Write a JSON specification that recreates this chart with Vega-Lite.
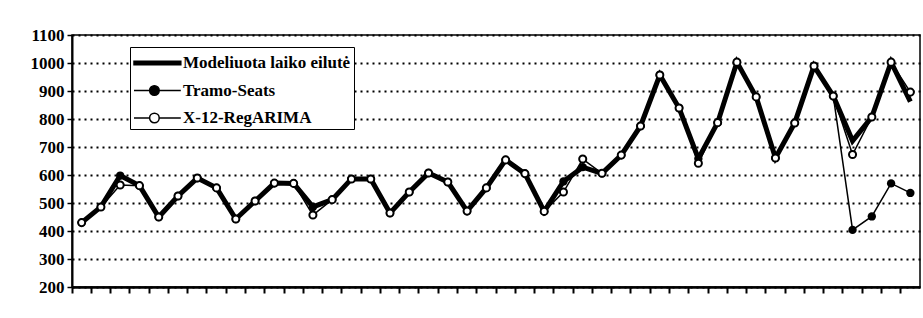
{
  "$schema": "https://vega.github.io/schema/vega-lite/v6.json",
  "width": 848,
  "height": 252,
  "autosize": {"type": "none"},
  "padding": {"left": 72, "top": 35, "right": 3, "bottom": 31},
  "background": "white",
  "config": {
    "view": {"stroke": "black", "strokeWidth": 1.5},
    "font": "Liberation Serif"
  },
  "datasets": {
    "series": [
      {"t":1,"s":"Modeliuota laiko eilutė","v":430},{"t":2,"s":"Modeliuota laiko eilutė","v":486},{"t":3,"s":"Modeliuota laiko eilutė","v":598},{"t":4,"s":"Modeliuota laiko eilutė","v":562},{"t":5,"s":"Modeliuota laiko eilutė","v":450},{"t":6,"s":"Modeliuota laiko eilutė","v":525},{"t":7,"s":"Modeliuota laiko eilutė","v":589},{"t":8,"s":"Modeliuota laiko eilutė","v":554},{"t":9,"s":"Modeliuota laiko eilutė","v":443},{"t":10,"s":"Modeliuota laiko eilutė","v":507},{"t":11,"s":"Modeliuota laiko eilutė","v":571},{"t":12,"s":"Modeliuota laiko eilutė","v":570},{"t":13,"s":"Modeliuota laiko eilutė","v":486},{"t":14,"s":"Modeliuota laiko eilutė","v":512},{"t":15,"s":"Modeliuota laiko eilutė","v":586},{"t":16,"s":"Modeliuota laiko eilutė","v":586},{"t":17,"s":"Modeliuota laiko eilutė","v":464},{"t":18,"s":"Modeliuota laiko eilutė","v":539},{"t":19,"s":"Modeliuota laiko eilutė","v":607},{"t":20,"s":"Modeliuota laiko eilutė","v":575},{"t":21,"s":"Modeliuota laiko eilutė","v":471},{"t":22,"s":"Modeliuota laiko eilutė","v":554},{"t":23,"s":"Modeliuota laiko eilutė","v":654},{"t":24,"s":"Modeliuota laiko eilutė","v":605},{"t":25,"s":"Modeliuota laiko eilutė","v":470},{"t":26,"s":"Modeliuota laiko eilutė","v":577},{"t":27,"s":"Modeliuota laiko eilutė","v":628},{"t":28,"s":"Modeliuota laiko eilutė","v":606},{"t":29,"s":"Modeliuota laiko eilutė","v":671},{"t":30,"s":"Modeliuota laiko eilutė","v":775},{"t":31,"s":"Modeliuota laiko eilutė","v":957},{"t":32,"s":"Modeliuota laiko eilutė","v":839},{"t":33,"s":"Modeliuota laiko eilutė","v":658},{"t":34,"s":"Modeliuota laiko eilutė","v":787},{"t":35,"s":"Modeliuota laiko eilutė","v":1003},{"t":36,"s":"Modeliuota laiko eilutė","v":879},{"t":37,"s":"Modeliuota laiko eilutė","v":661},{"t":38,"s":"Modeliuota laiko eilutė","v":786},{"t":39,"s":"Modeliuota laiko eilutė","v":989},{"t":40,"s":"Modeliuota laiko eilutė","v":882},{"t":41,"s":"Modeliuota laiko eilutė","v":722},{"t":42,"s":"Modeliuota laiko eilutė","v":807},{"t":43,"s":"Modeliuota laiko eilutė","v":1003},{"t":44,"s":"Modeliuota laiko eilutė","v":862},
      {"t":1,"s":"Tramo-Seats","v":430},{"t":2,"s":"Tramo-Seats","v":486},{"t":3,"s":"Tramo-Seats","v":598},{"t":4,"s":"Tramo-Seats","v":562},{"t":5,"s":"Tramo-Seats","v":450},{"t":6,"s":"Tramo-Seats","v":525},{"t":7,"s":"Tramo-Seats","v":589},{"t":8,"s":"Tramo-Seats","v":554},{"t":9,"s":"Tramo-Seats","v":443},{"t":10,"s":"Tramo-Seats","v":507},{"t":11,"s":"Tramo-Seats","v":571},{"t":12,"s":"Tramo-Seats","v":570},{"t":13,"s":"Tramo-Seats","v":486},{"t":14,"s":"Tramo-Seats","v":512},{"t":15,"s":"Tramo-Seats","v":586},{"t":16,"s":"Tramo-Seats","v":586},{"t":17,"s":"Tramo-Seats","v":464},{"t":18,"s":"Tramo-Seats","v":539},{"t":19,"s":"Tramo-Seats","v":607},{"t":20,"s":"Tramo-Seats","v":575},{"t":21,"s":"Tramo-Seats","v":471},{"t":22,"s":"Tramo-Seats","v":554},{"t":23,"s":"Tramo-Seats","v":654},{"t":24,"s":"Tramo-Seats","v":605},{"t":25,"s":"Tramo-Seats","v":470},{"t":26,"s":"Tramo-Seats","v":577},{"t":27,"s":"Tramo-Seats","v":628},{"t":28,"s":"Tramo-Seats","v":606},{"t":29,"s":"Tramo-Seats","v":671},{"t":30,"s":"Tramo-Seats","v":775},{"t":31,"s":"Tramo-Seats","v":957},{"t":32,"s":"Tramo-Seats","v":839},{"t":33,"s":"Tramo-Seats","v":658},{"t":34,"s":"Tramo-Seats","v":787},{"t":35,"s":"Tramo-Seats","v":1003},{"t":36,"s":"Tramo-Seats","v":879},{"t":37,"s":"Tramo-Seats","v":661},{"t":38,"s":"Tramo-Seats","v":786},{"t":39,"s":"Tramo-Seats","v":989},{"t":40,"s":"Tramo-Seats","v":882},{"t":41,"s":"Tramo-Seats","v":404},{"t":42,"s":"Tramo-Seats","v":452},{"t":43,"s":"Tramo-Seats","v":570},{"t":44,"s":"Tramo-Seats","v":536},
      {"t":1,"s":"X-12-RegARIMA","v":430},{"t":2,"s":"X-12-RegARIMA","v":486},{"t":3,"s":"X-12-RegARIMA","v":564},{"t":4,"s":"X-12-RegARIMA","v":562},{"t":5,"s":"X-12-RegARIMA","v":450},{"t":6,"s":"X-12-RegARIMA","v":525},{"t":7,"s":"X-12-RegARIMA","v":589},{"t":8,"s":"X-12-RegARIMA","v":554},{"t":9,"s":"X-12-RegARIMA","v":443},{"t":10,"s":"X-12-RegARIMA","v":507},{"t":11,"s":"X-12-RegARIMA","v":571},{"t":12,"s":"X-12-RegARIMA","v":570},{"t":13,"s":"X-12-RegARIMA","v":457},{"t":14,"s":"X-12-RegARIMA","v":512},{"t":15,"s":"X-12-RegARIMA","v":586},{"t":16,"s":"X-12-RegARIMA","v":586},{"t":17,"s":"X-12-RegARIMA","v":464},{"t":18,"s":"X-12-RegARIMA","v":539},{"t":19,"s":"X-12-RegARIMA","v":607},{"t":20,"s":"X-12-RegARIMA","v":575},{"t":21,"s":"X-12-RegARIMA","v":471},{"t":22,"s":"X-12-RegARIMA","v":554},{"t":23,"s":"X-12-RegARIMA","v":654},{"t":24,"s":"X-12-RegARIMA","v":605},{"t":25,"s":"X-12-RegARIMA","v":470},{"t":26,"s":"X-12-RegARIMA","v":539},{"t":27,"s":"X-12-RegARIMA","v":657},{"t":28,"s":"X-12-RegARIMA","v":606},{"t":29,"s":"X-12-RegARIMA","v":671},{"t":30,"s":"X-12-RegARIMA","v":775},{"t":31,"s":"X-12-RegARIMA","v":957},{"t":32,"s":"X-12-RegARIMA","v":839},{"t":33,"s":"X-12-RegARIMA","v":642},{"t":34,"s":"X-12-RegARIMA","v":787},{"t":35,"s":"X-12-RegARIMA","v":1003},{"t":36,"s":"X-12-RegARIMA","v":879},{"t":37,"s":"X-12-RegARIMA","v":661},{"t":38,"s":"X-12-RegARIMA","v":786},{"t":39,"s":"X-12-RegARIMA","v":989},{"t":40,"s":"X-12-RegARIMA","v":882},{"t":41,"s":"X-12-RegARIMA","v":673},{"t":42,"s":"X-12-RegARIMA","v":807},{"t":43,"s":"X-12-RegARIMA","v":1003},{"t":44,"s":"X-12-RegARIMA","v":896}
    ]
  },
  "data": {"name": "series"},
  "encoding": {
    "x": {
      "field": "t", "type": "ordinal",
      "scale": {"type": "band", "paddingInner": 0, "paddingOuter": 0},
      "axis": {"labels": false, "title": null, "ticks": true, "tickSize": 6, "tickWidth": 2, "tickColor": "black", "domainColor": "black", "domainWidth": 2.5, "grid": false, "bandPosition": 0}
    },
    "y": {
      "field": "v", "type": "quantitative",
      "scale": {"domain": [200, 1100], "nice": false, "zero": false},
      "axis": {"values": [200,300,400,500,600,700,800,900,1000,1100], "format": "d", "title": null, "grid": true, "gridDash": [2,4], "gridWidth": 2, "gridColor": "black", "gridOpacity": 1, "tickSize": 5, "tickWidth": 1.5, "tickColor": "black", "domainColor": "black", "domainWidth": 2, "labelFont": "Liberation Serif", "labelFontWeight": "bold", "labelFontSize": 17, "labelColor": "black", "labelPadding": 3, "labelOverlap": false}
    }
  },
  "layer": [
    {
      "transform": [{"filter": "datum.s === 'Modeliuota laiko eilutė'"}],
      "mark": {"type": "line", "color": "black", "strokeWidth": 5, "strokeJoin": "miter"}
    },
    {
      "transform": [{"filter": "datum.s === 'X-12-RegARIMA'"}],
      "mark": {"type": "line", "color": "black", "strokeWidth": 1.5}
    },
    {
      "transform": [{"filter": "datum.s === 'Tramo-Seats'"}],
      "mark": {"type": "line", "color": "black", "strokeWidth": 1.5}
    },
    {
      "transform": [{"filter": "datum.s === 'Tramo-Seats'"}],
      "mark": {"type": "point", "filled": true, "color": "black", "size": 70, "opacity": 1}
    },
    {
      "transform": [{"filter": "datum.s === 'X-12-RegARIMA'"}],
      "mark": {"type": "point", "filled": true, "fill": "white", "stroke": "black", "strokeWidth": 2, "size": 50, "opacity": 1}
    },
    {
      "transform": [{"filter": "false"}],
      "mark": {"type": "point", "filled": true, "strokeWidth": 1.5, "opacity": 1},
      "encoding": {
        "shape": {
          "field": "s", "type": "nominal",
          "scale": {
            "domain": ["Modeliuota laiko eilutė", "Tramo-Seats", "X-12-RegARIMA"],
            "range": [
              "M-1,-0.15H2.9V0.15H-1Z",
              "M-1,0H0.3M1.1,0H2.9M1.1,0C1.1,0.2209 0.9209,0.4 0.7,0.4C0.4791,0.4 0.3,0.2209 0.3,0C0.3,-0.2209 0.4791,-0.4 0.7,-0.4C0.9209,-0.4 1.1,-0.2209 1.1,0Z",
              "M-1,0H0.3M1.1,0H2.9M1.1,0C1.1,0.2209 0.9209,0.4 0.7,0.4C0.4791,0.4 0.3,0.2209 0.3,0C0.3,-0.2209 0.4791,-0.4 0.7,-0.4C0.9209,-0.4 1.1,-0.2209 1.1,0Z"
            ]
          },
          "legend": {
            "title": null, "orient": "none", "legendX": 58, "legendY": 12,
            "padding": 3, "strokeColor": "black", "fillColor": "white",
            "symbolSize": 576, "rowPadding": 6.5, "labelOffset": 24, "labelLimit": 400,
            "symbolStrokeWidth": 1.5,
            "labelFont": "Liberation Serif", "labelFontWeight": "bold", "labelFontSize": 17, "labelColor": "black",
            "encode": {"legend": {"update": {"strokeWidth": {"value": 1.5}}}}
          }
        },
        "fill": {
          "field": "s", "type": "nominal",
          "scale": {
            "domain": ["Modeliuota laiko eilutė", "Tramo-Seats", "X-12-RegARIMA"],
            "range": ["black", "black", "white"]
          },
          "legend": {
            "title": null, "orient": "none", "legendX": 58, "legendY": 12,
            "padding": 3, "strokeColor": "black", "fillColor": "white",
            "symbolSize": 576, "rowPadding": 6.5, "labelOffset": 24, "labelLimit": 400,
            "symbolStrokeWidth": 1.5,
            "labelFont": "Liberation Serif", "labelFontWeight": "bold", "labelFontSize": 17, "labelColor": "black",
            "encode": {"legend": {"update": {"strokeWidth": {"value": 1.5}}}}
          }
        },
        "stroke": {
          "field": "s", "type": "nominal",
          "scale": {
            "domain": ["Modeliuota laiko eilutė", "Tramo-Seats", "X-12-RegARIMA"],
            "range": ["black", "black", "black"]
          },
          "legend": {
            "title": null, "orient": "none", "legendX": 58, "legendY": 12,
            "padding": 3, "strokeColor": "black", "fillColor": "white",
            "symbolSize": 576, "rowPadding": 6.5, "labelOffset": 24, "labelLimit": 400,
            "symbolStrokeWidth": 1.5,
            "labelFont": "Liberation Serif", "labelFontWeight": "bold", "labelFontSize": 17, "labelColor": "black",
            "encode": {"legend": {"update": {"strokeWidth": {"value": 1.5}}}}
          }
        }
      }
    }
  ]
}
